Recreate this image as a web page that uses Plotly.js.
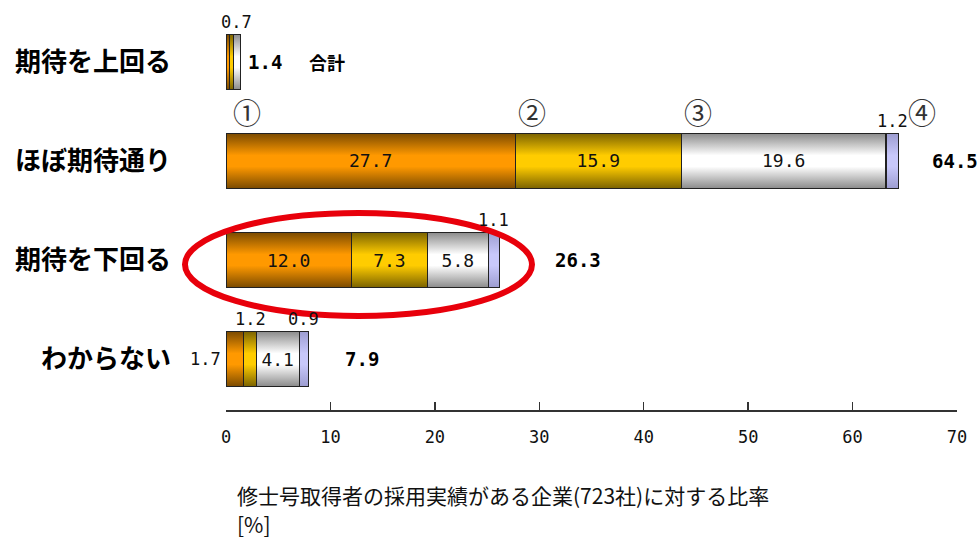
<!DOCTYPE html>
<html><head><meta charset="utf-8">
<script src="https://cdn.plot.ly/plotly-3.0.1.min.js"></script>
<style>html,body{margin:0;padding:0;background:#fff}</style>
</head><body><div id="chart" style="width:977px;height:543px"></div>
<script>
// ---- data ----
const categories = ['期待を上回る', 'ほぼ期待通り', '期待を下回る', 'わからない'];
const seriesNames = ['①', '②', '③', '④'];
const s1 = [0.3, 27.7, 12.0, 1.7];
const s2 = [0.4, 15.9, 7.3, 1.2];
const s3 = [0.7, 19.6, 5.8, 4.1];
const s4 = [0.0, 1.2, 1.1, 0.9];
const totals = [1.4, 64.5, 26.3, 7.9];
const xTicks = [0, 10, 20, 30, 40, 50, 60, 70];
const totalLabel = '合計';
const axisTitleLines = ['修士号取得者の採用実績がある企業(723社)に対する比率', '[%]'];

// ---- styles ----
const series = [s1, s2, s3, s4];
const midColors = ['#FF9900', '#FFCC00', '#F4F4F4', '#C4C4F4'];
const gradStops = [
  ['#7A4A00', '#FF9900', '#FF9900', '#7A4A00'],
  ['#7A6200', '#FFCC00', '#FFCC00', '#7A6200'],
  ['#8A8A8A', '#FFFFFF', '#FFFFFF', '#8A8A8A'],
  ['#9C9CD0', '#C8C8FA', '#C8C8FA', '#9C9CD0']
];
const NUM = "'DejaVu Sans Mono', 'Liberation Mono', monospace";
const JP = "'Noto Sans CJK JP', 'Noto Sans', sans-serif";

const data = series.map((vals, i) => ({
  type: 'bar', orientation: 'h', name: seriesNames[i],
  x: vals, y: categories,
  marker: { color: midColors[i], line: { color: '#222', width: 1.2 } },
  text: vals.map(v => v >= 3 ? v.toFixed(1) : ''),
  textposition: 'inside', insidetextanchor: 'middle', textangle: 0,
  constraintext: 'none',
  textfont: { family: NUM, size: 18, color: '#111' },
  hoverinfo: 'none'
}));

const annotations = [];
// small segment labels
categories.forEach((c, r) => {
  let cum = 0;
  series.forEach((vals, i) => {
    const v = vals[r];
    const start = cum; cum += v;
    if (v < 0.5 || v >= 3) return;
    if (i === 0) {
      annotations.push({ x: start, y: c, xref: 'x', yref: 'y', text: v.toFixed(1), showarrow: false,
        xanchor: 'right', xshift: -3, font: { family: NUM, size: 17, color: '#111' } });
    } else {
      annotations.push({ x: start + v / 2, y: c, xref: 'x', yref: 'y', text: v.toFixed(1), showarrow: false,
        xanchor: 'center', yshift: 40, font: { family: NUM, size: 17, color: '#111' } });
    }
  });
});
// totals
const totalShift = [5, 30, 52, 34];
categories.forEach((c, r) => {
  annotations.push({ x: totals[r], y: c, xref: 'x', yref: 'y', text: '<b>' + totals[r].toFixed(1) + '</b>',
    showarrow: false, xanchor: 'left', xshift: totalShift[r], font: { family: NUM, size: 19, color: '#000' } });
});
annotations.push({ x: totals[0], y: categories[0], xref: 'x', yref: 'y', text: '<b>' + totalLabel + '</b>',
  showarrow: false, xanchor: 'left', xshift: 66, font: { family: JP, size: 18, color: '#000' } });
// circled series markers above second row
let cum = 0;
const circShift = [5, 1, 1, 20];
series.forEach((vals, i) => {
  annotations.push({ x: cum, y: categories[1], xref: 'x', yref: 'y', text: seriesNames[i], showarrow: false,
    xanchor: 'left', xshift: circShift[i], yshift: 49, font: { family: JP, size: 28, color: '#333' } });
  cum += vals[1];
});
// axis title (two lines)
const titleY = [-0.218, -0.2923];
axisTitleLines.forEach((t, k) => {
  annotations.push({ x: 0.012, y: titleY[k], xref: 'paper', yref: 'paper', xanchor: 'left', yanchor: 'middle', align: 'left',
    text: t, showarrow: false, font: { family: JP, size: 21, color: '#111' } });
});

const layout = {
  width: 977, height: 543,
  margin: { l: 226, r: 20, t: 20, b: 133 },
  paper_bgcolor: '#fff', plot_bgcolor: '#fff',
  barmode: 'stack', bargap: 0.44, showlegend: false,
  xaxis: { range: [0, 70], tickvals: xTicks, ticktext: xTicks.map(String), ticks: 'inside', ticklen: 8, tickwidth: 1.5,
    tickcolor: '#333', showline: true, linecolor: '#333', linewidth: 2, showgrid: false, zeroline: false,
    tickfont: { family: NUM, size: 17, color: '#111' }, ticklabelstandoff: 11 },
  yaxis: { type: 'category', categoryorder: 'array', categoryarray: categories, range: [3.515, -0.424],
    showline: false, showgrid: false, zeroline: false, ticks: '', ticklabelstandoff: 54,
    tickfont: { family: JP, size: 26, color: '#000', weight: 'bold' } },
  shapes: [{ type: 'circle', xref: 'paper', yref: 'paper', x0: -0.0561, x1: 0.4186, y0: 0.241, y1: 0.505,
    line: { color: '#E8000B', width: 6 }, layer: 'above' }],
  annotations: annotations
};

Plotly.newPlot('chart', data, layout, { staticPlot: true }).then(gd => {
  const ns = 'http://www.w3.org/2000/svg';
  const svg = gd.querySelector('.main-svg');
  const defs = document.createElementNS(ns, 'defs');
  gradStops.forEach((stops, i) => {
    const lg = document.createElementNS(ns, 'linearGradient');
    lg.setAttribute('id', 'bargrad' + i);
    lg.setAttribute('x1', '0'); lg.setAttribute('y1', '0'); lg.setAttribute('x2', '0'); lg.setAttribute('y2', '1');
    const offs = [0, 0.4, 0.6, 1];
    stops.forEach((col, k) => {
      const st = document.createElementNS(ns, 'stop');
      st.setAttribute('offset', offs[k]); st.setAttribute('stop-color', col);
      lg.appendChild(st);
    });
    defs.appendChild(lg);
  });
  svg.insertBefore(defs, svg.firstChild);
  gd.querySelectorAll('.barlayer .trace').forEach((tr, i) => {
    tr.querySelectorAll('path').forEach(p => { p.style.fill = 'url(#bargrad' + i + ')'; });
  });
});
</script></body></html>
